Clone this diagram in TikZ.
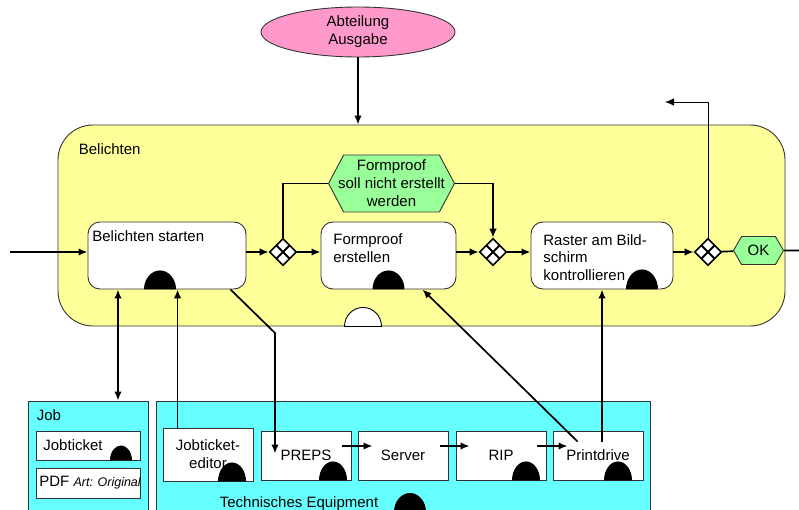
\documentclass[tikz,border=0pt]{standalone}
\usepackage{fontspec}
\setmainfont{Liberation Sans}
\usetikzlibrary{shapes.geometric,shapes.symbols,arrows.meta}
\definecolor{gelb}{RGB}{255,255,153}
\definecolor{gruen}{RGB}{153,255,153}
\definecolor{rosa}{RGB}{255,153,204}
\definecolor{tuerkis}{RGB}{102,255,255}
\tikzset{
	bereich/.style  = {draw=black!80, line width=0.9pt, fill=gelb, rectangle, rounded corners=35pt,
		minimum width=727pt, minimum height=201pt},
	funktion/.style = {draw=black!80, line width=0.9pt, fill=white, rectangle, rounded corners=12pt, inner sep=0pt},
	ereignis/.style = {draw=black!80, line width=0.9pt, fill=gruen, signal, signal to=west and east,
		signal pointer angle=124, inner sep=0pt, align=center},
	orgeinheit/.style = {draw=black!80, line width=0.9pt, fill=rosa, ellipse, inner sep=0pt, align=center},
	xor/.style      = {draw, fill=white, diamond, line width=1.6pt, minimum width=27pt,
		minimum height=27pt, inner sep=0pt,
		path picture={
			\draw[line width=1.8pt] ([shift={(-6.75pt,6.75pt)}]path picture bounding box.center)
				-- ([shift={(6.75pt,-6.75pt)}]path picture bounding box.center);
			\draw[line width=1.8pt] ([shift={(6.75pt,6.75pt)}]path picture bounding box.center)
				-- ([shift={(-6.75pt,-6.75pt)}]path picture bounding box.center);}},
	traeger/.style  = {draw=black!80, line width=0.9pt, fill=tuerkis, rectangle, inner sep=0pt},
	geraet/.style   = {draw=black!80, line width=0.9pt, fill=white, rectangle, inner sep=0pt, align=center,
		minimum width=90pt, minimum height=49pt},
	txt/.style      = {inner sep=0pt, anchor=north west, align=left} % Text oben links
}
% schwarzer Halbkreis am unteren Rand eines Knotens
\newcommand{\haube}[4]{\fill ([xshift=#2-#3]#1.south) arc[start angle=180, end angle=0, x radius=#3, y radius=#4] -- cycle;}

\begin{document}
\begin{tikzpicture}[x=1pt, y=-1pt, line width=1.7pt, >={Latex[length=9pt,width=7.5pt]},
	font=\fontsize{15}{18}\selectfont]
	\useasboundingbox (0,0) rectangle (799,510);
	\clip (0,0) rectangle (799,510);

	\draw
	node at (421.5,225.5) [bereich] (bel) {}
	node at (78,143) [txt] (belt) {Belichten}
	node at (88,460.5) [traeger, minimum width=120pt, minimum height=119pt] (job) {}
	node at (403,460.5) [traeger, minimum width=494pt, minimum height=119pt] (equip) {}
	node at (358,32) [orgeinheit, minimum width=194pt, minimum height=50pt] (abt) {Abteilung\\Ausgabe}
	node at (167,255.5) [funktion, minimum width=158pt, minimum height=67pt] (start) {}
	node at (283,252) [xor] (d1) {}
	node at (388.5,255.5) [funktion, minimum width=135pt, minimum height=67pt] (fp) {}
	node at (391.5,183.5) [ereignis, inner xsep=-5.5pt, minimum height=57pt] (nfp) {Formproof\\soll nicht erstellt\\werden}
	node at (493,252) [xor] (d2) {}
	node at (602,255.5) [funktion, minimum width=142pt, minimum height=67pt] (raster) {}
	node at (708,252) [xor] (d3) {}
	node at (758.5,250.5) [ereignis, signal pointer angle=120, minimum width=50pt, minimum height=28pt] (ok) {OK};

	\draw
	node at ([shift={(4pt,-8pt)}]start.north west) [txt] (startt) {Belichten starten}
	node at ([shift={(12pt,-11pt)}]fp.north west) [txt] (fpt) {Formproof\\erstellen}
	node at ([shift={(12pt,-12pt)}]raster.north west) [txt, font=\fontsize{15}{17.5}\selectfont] (rastert) {Raster am Bild-\\schirm\\kontrollieren}
	node at (36,409) [txt] (jobt) {Job}
	node at (88,445.5) [traeger, fill=white, minimum width=104pt, minimum height=29pt] (jt) {}
	node at ([xshift=7pt]jt.west) [inner sep=0pt, anchor=west] (jtt) {Jobticket}
	node at (88,483) [traeger, fill=white, minimum width=104pt, minimum height=30pt] (pdf) {}
	node at ([xshift=3pt]pdf.west) [inner sep=0pt, anchor=west] (pdft) {PDF {\fontsize{12.5}{14}\selectfont\itshape Art: Original}}
	node at (208,454.5) [geraet, minimum height=53pt] (jte) {Jobticket-\\editor}
	node at (306,455.5) [geraet] (preps) {PREPS}
	node at (403,455.5) [geraet] (server) {Server}
	node at (501,455.5) [geraet] (rip) {RIP}
	node at (598,455.5) [geraet] (pd) {Printdrive}
	node at (219,496) [txt] (equipt) {Technisches Equipment};

	\haube{start}{-7pt}{16pt}{19pt}
	\haube{fp}{0pt}{16pt}{19pt}
	\haube{raster}{40pt}{16pt}{20pt}
	\haube{jt}{33pt}{11pt}{15pt}
	\haube{jte}{24pt}{14pt}{19pt}
	\haube{preps}{27pt}{14pt}{19pt}
	\haube{rip}{25pt}{14pt}{19pt}
	\haube{pd}{20pt}{14pt}{19pt}
	\fill (394,512) arc[start angle=180, end angle=0, x radius=16pt, y radius=19pt] -- cycle;
	\filldraw[fill=white, line width=0.9pt] ([xshift=-58.5pt-18.5pt]bel.south) arc[start angle=180, end angle=0, x radius=18.5pt, y radius=19pt] -- cycle;

	\coordinate (in) at (10,252);
	\coordinate (out) at (799,250.5);
	\coordinate (back) at (665,102);
	\coordinate (knick) at (275,333);

	\draw[->](abt)--(abt |- bel.north);
	\draw[->](in)--(in -| start.west);
	\draw[->](d1 -| start.east)--(d1);
	\draw[->](d1)--(d1 -| fp.west);
	\draw(d1)|-(nfp);
	\draw[->](nfp)-|(d2);
	\draw[->](d2 -| fp.east)--(d2);
	\draw[->](d2)--(d2 -| raster.west);
	\draw[->](d3 -| raster.east)--(d3);
	\draw(d3)--(ok);
	\draw(ok)--(out);
	\draw[->, line width=0.8pt](d3)|-(back);
	\draw[<->]([xshift=-49pt]start.south)--([xshift=-49pt]start.south |- job.north);
	\draw[->]([xshift=15pt]jte.north west)--([xshift=15pt]jte.north west |- start.south);
	\draw[->]([xshift=-16pt]start.south east)--(knick)--([yshift=2pt]knick |- preps.center);
	\draw[->]([shift={(-9pt,9.5pt)}]preps.east)--([shift={(15pt,9.5pt)}]server.west);
	\draw[->]([shift={(-8pt,9.5pt)}]server.east)--([shift={(14pt,9.5pt)}]rip.west);
	\draw[->]([shift={(-9pt,9.5pt)}]rip.east)--([shift={(15pt,9.5pt)}]pd.west);
	\draw[->]([shift={(25pt,-11pt)}]pd.north west)--([xshift=-34pt]fp.south east);
	\draw[->]([yshift=-11pt]raster.south |- pd.north)--(raster.south);
\end{tikzpicture}
\end{document}
